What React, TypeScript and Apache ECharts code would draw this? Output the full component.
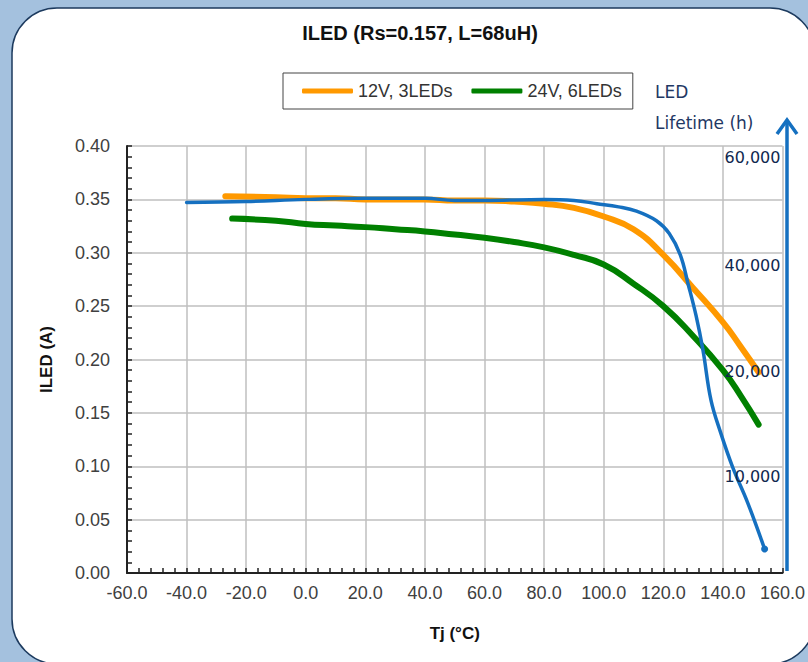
import React, { useEffect, useRef } from "react";
import * as echarts from "echarts";

const tj12 = [-27, -10, 0, 10, 20, 30, 40, 50, 60, 70, 80, 90, 100, 110, 120, 130, 140, 146, 152];
const iled12 = [0.353, 0.352, 0.351, 0.351, 0.350, 0.350, 0.350, 0.349, 0.349, 0.348, 0.346, 0.342, 0.334, 0.322, 0.298, 0.267, 0.235, 0.212, 0.188];

const tj24 = [-24.7, -10, 0, 10, 20, 30, 40, 50, 60, 70, 80, 90, 100, 110, 120, 130, 140, 146, 152];
const iled24 = [0.332, 0.330, 0.327, 0.3255, 0.324, 0.322, 0.320, 0.317, 0.314, 0.310, 0.305, 0.298, 0.289, 0.271, 0.250, 0.222, 0.190, 0.166, 0.139];

const tjLife = [-40, -20, 0, 20, 40, 50, 60, 80, 90, 97.7, 105, 111, 117.7, 122, 125.7, 128.3, 131, 133.3, 136, 139.3, 143.3, 148.3, 154];
const lifeCurve = [0.347, 0.348, 0.350, 0.351, 0.351, 0.349, 0.349, 0.350, 0.349, 0.346, 0.343, 0.339, 0.330, 0.318, 0.298, 0.271, 0.241, 0.209, 0.162, 0.131, 0.099, 0.066, 0.0225];

const lifeTickLabels = ["60,000", "40,000", "20,000", "10,000"];
const lifeTickLevels = [0.389, 0.288, 0.189, 0.0908];

const seriesNames = ["12V, 3LEDs", "24V, 6LEDs"];

export default function App() {
  const ref = useRef<HTMLDivElement>(null);
  useEffect(() => {
    if (!ref.current) return;
    const chart = echarts.init(ref.current, null, { renderer: "svg" });
    const sans = "Liberation Sans, Arial, sans-serif";
    const verd = "DejaVu Sans, Verdana, sans-serif";
    const lastLife = tjLife.length - 1;
    chart.setOption({
      animation: false,
      backgroundColor: "#a4c1de",
      title: {
        text: "ILED (Rs=0.157, L=68uH)",
        left: 420,
        top: 23,
        textAlign: "center",
        padding: 0,
        textStyle: { fontFamily: sans, fontSize: 20, fontWeight: "bold", color: "#111" },
      },
      legend: {
        data: seriesNames,
        left: 283,
        top: 73,
        padding: [9, 11, 9, 19],
        borderColor: "#444",
        borderWidth: 1,
        itemWidth: 51,
        itemHeight: 5,
        itemGap: 19,
        icon: "roundRect",
        textStyle: { fontFamily: sans, fontSize: 18, color: "#333" },
      },
      graphic: [
        {
          type: "rect",
          z: -10,
          shape: { x: 12, y: 8, width: 803, height: 656, r: 45 },
          style: { fill: "#ffffff", stroke: "#1c3a5e", lineWidth: 1.5 },
        },
        {
          type: "text",
          left: 655,
          top: 83,
          style: { text: "LED", fontFamily: verd, fontSize: 17, fill: "#1f3864" },
        },
        {
          type: "text",
          left: 655,
          top: 114,
          style: { text: "Lifetime (h)", fontFamily: verd, fontSize: 17, fill: "#1f3864" },
        },
        {
          type: "line",
          z: 20,
          shape: { x1: 787, y1: 571, x2: 787, y2: 120 },
          style: { stroke: "#1570c0", lineWidth: 3.5 },
        },
        {
          type: "polyline",
          z: 20,
          shape: { points: [[777, 134], [787, 120], [797, 134]] },
          style: { stroke: "#1570c0", lineWidth: 3.5, fill: null },
        },
      ],
      grid: { left: 127, right: 21, top: 146, bottom: 89 },
      xAxis: {
        type: "value",
        min: -60,
        max: 160,
        interval: 20,
        name: "Tj (°C)",
        nameLocation: "middle",
        nameGap: 52,
        nameTextStyle: { fontFamily: sans, fontSize: 17, fontWeight: "bold", color: "#111" },
        axisLine: { show: true, onZero: false, lineStyle: { color: "#222", width: 2 } },
        axisTick: { show: true, inside: true, length: 5, lineStyle: { color: "#222", width: 1.5 } },
        minorTick: { show: true, splitNumber: 5, length: 5, lineStyle: { color: "#222", width: 1.5 } },
        splitLine: { show: true, lineStyle: { color: "#bfbfbf", width: 1.5 } },
        axisLabel: {
          margin: 11,
          fontFamily: sans,
          fontSize: 18,
          color: "#404040",
          formatter: (v: number) => v.toFixed(1),
        },
      },
      yAxis: {
        type: "value",
        min: 0,
        max: 0.4,
        interval: 0.05,
        name: "ILED (A)",
        nameLocation: "middle",
        nameGap: 72,
        nameTextStyle: { fontFamily: sans, fontSize: 17, fontWeight: "bold", color: "#111" },
        axisLine: { show: true, onZero: false, lineStyle: { color: "#222", width: 2 } },
        axisTick: { show: true, inside: true, length: 5, lineStyle: { color: "#222", width: 1.5 } },
        minorTick: { show: true, splitNumber: 5, length: 5, lineStyle: { color: "#222", width: 1.5 } },
        splitLine: { show: true, lineStyle: { color: "#bfbfbf", width: 1.5 } },
        axisLabel: {
          margin: 17,
          fontFamily: sans,
          fontSize: 18,
          color: "#404040",
          formatter: (v: number) => v.toFixed(2),
        },
      },
      series: [
        {
          name: seriesNames[0],
          type: "line",
          data: tj12.map((x, i) => [x, iled12[i]]),
          symbol: "none",
          smooth: 0.5,
          color: "#ff9900",
          lineStyle: { width: 6, cap: "round", color: "#ff9900" },
          z: 3,
        },
        {
          name: seriesNames[1],
          type: "line",
          data: tj24.map((x, i) => [x, iled24[i]]),
          symbol: "none",
          smooth: 0.5,
          color: "#008000",
          lineStyle: { width: 6, cap: "round", color: "#008000" },
          z: 3,
        },
        {
          name: "LED Lifetime",
          type: "line",
          data: tjLife.map((x, i) => [x, lifeCurve[i]]),
          symbol: "circle",
          showSymbol: true,
          symbolSize: (_v: any, p: any) => (p.dataIndex === lastLife ? 7 : 0),
          smooth: 0.4,
          color: "#1570c0",
          itemStyle: { color: "#1570c0" },
          lineStyle: { width: 3.5, cap: "round", color: "#1570c0" },
          z: 4,
        },
        {
          name: "lifetime ticks",
          type: "scatter",
          data: lifeTickLevels.map((y) => [160, y]),
          symbolSize: 0,
          z: 10,
          itemStyle: { opacity: 1 },
          label: {
            show: true,
            position: "left",
            distance: 2,
            fontFamily: verd,
            fontSize: 16,
            color: "#10284f",
            opacity: 1,
            formatter: (p: any) => lifeTickLabels[p.dataIndex],
          },
        },
      ],
    });
    return () => chart.dispose();
  }, []);
  return (
    <div
      ref={ref}
      style={{ position: "absolute", left: 0, top: 0, width: 808, height: 662 }}
    />
  );
}
